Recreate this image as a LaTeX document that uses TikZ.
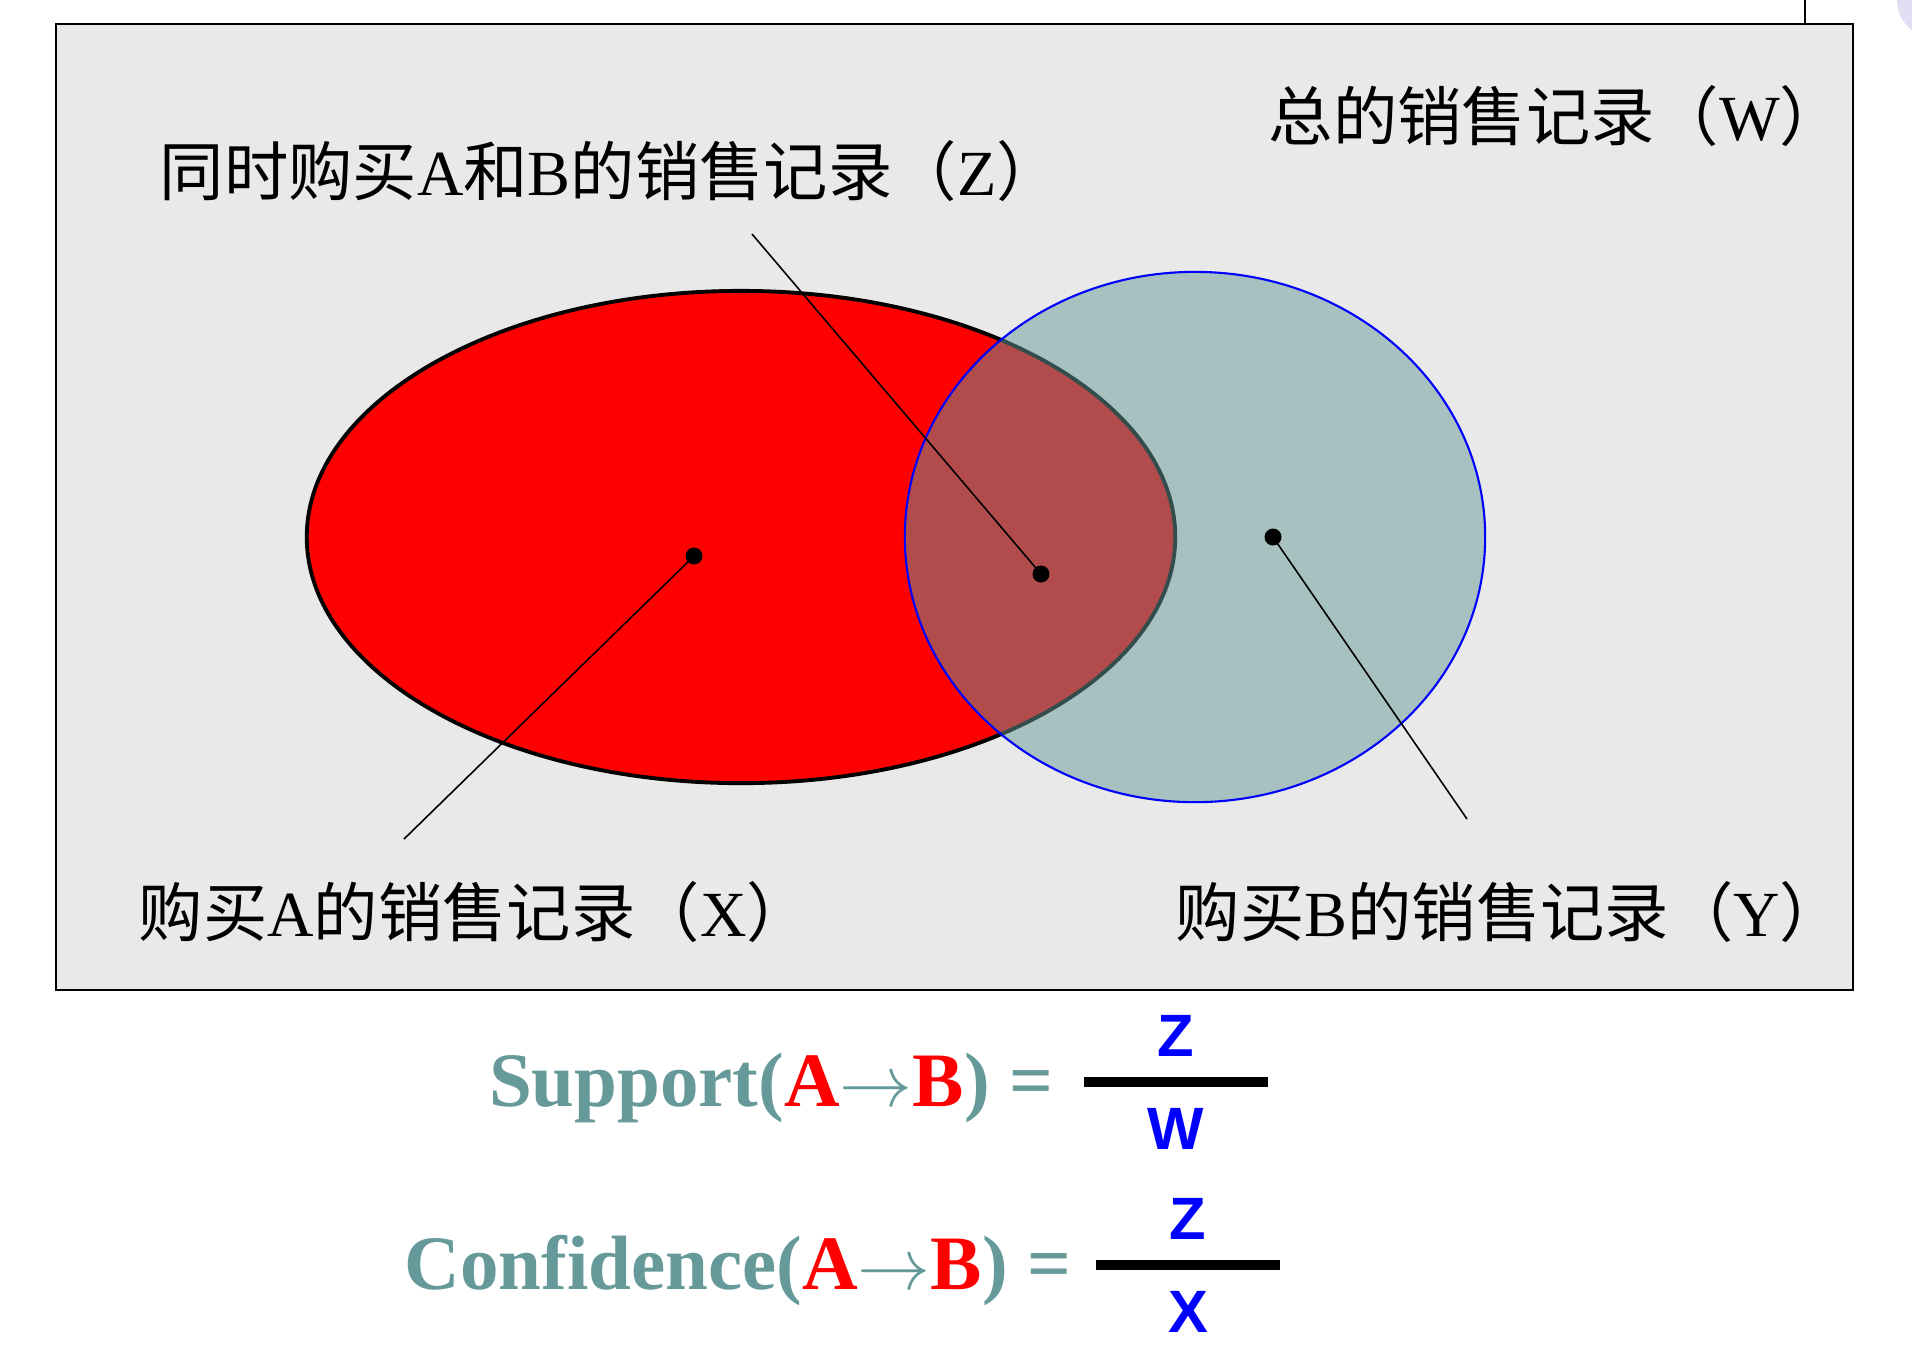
\documentclass[tikz,border=0pt]{standalone}
\usepackage{fontspec}
\setmainfont{Liberation Serif}
\newfontfamily\cjk{Noto Sans CJK SC}
\newfontfamily\arialfont{Liberation Sans}
\usetikzlibrary{shapes.geometric, positioning}
\definecolor{mybg}{RGB}{233,233,233}
\definecolor{myteal}{RGB}{102,153,153}
\definecolor{myred}{RGB}{255,0,0}
\definecolor{myblue}{RGB}{0,0,255}
\definecolor{mylav}{RGB}{226,223,245}
\newcommand{\zh}[1]{{\cjk #1}}
\newcommand{\implarrow}{\ensuremath{\rightarrow}}
\tikzset{
  setlabel/.style={font=\fontsize{18.3}{21}\selectfont, inner sep=0pt},
  setA/.style={ellipse, draw=black, fill=myred, line width=1.1pt,
    minimum width=8.68cm, minimum height=4.92cm, inner sep=0pt},
  setB/.style={ellipse, draw=myblue, fill=myteal, fill opacity=0.5,
    line width=0.6pt, minimum width=5.8cm, minimum height=5.3cm, inner sep=0pt},
  dot/.style={circle, fill=black, inner sep=0pt, minimum size=0.17cm},
  leader/.style={line width=0.45pt, color=black},
  fracbar/.style={rectangle, fill=black, inner sep=0pt,
    minimum width=1.83cm, minimum height=0.1cm},
  formula/.style={font=\fontsize{21.9}{24}\selectfont\bfseries, inner sep=0pt, color=myteal},
  letter/.style={font=\fontsize{17}{20}\selectfont\arialfont\bfseries, inner sep=0pt, color=myblue}
}

\begin{document}
\begin{tikzpicture}[x=0.01cm, y=-0.01cm]
  \useasboundingbox (0,0) rectangle (1912,1362);

  % Frame
  \fill[mylav] (1935,0) circle (38);
  \draw[line width=0.6pt] (1805,0) -- (1805,24);
  \draw[line width=0.6pt, fill=mybg] (56,24) rectangle (1853,990);

  % Sets
  \node[setA] (setA) at (741,537) {};
  \node[setB] (setB) at (1195,537) {};

  % Dots
  \node[dot] (dotX) at (694,556) {};
  \node[dot] (dotZ) at (1041,574) {};
  \node[dot] (dotY) at (1273,537) {};

  % Leader ends
  \coordinate (endX) at (404,839);
  \coordinate (endZ) at (752,234);
  \coordinate (endY) at (1467,819);

  \draw[leader] (dotX.center) -- (endX);
  \draw[leader] (dotZ.center) -- (endZ);
  \draw[leader] (dotY.center) -- (endY);

  % Labels
  \node[setlabel, anchor=east] (labW) at (1845,116) {\zh{总的销售记录（}W\zh{）}};
  \node[setlabel, anchor=west] (labZ) at (159,171) {\zh{同时购买}A\zh{和}B\zh{的销售记录（}Z\zh{）}};
  \node[setlabel, anchor=west] (labX) at (138,912) {\zh{购买}A\zh{的销售记录（}X\zh{）}};
  \node[setlabel, anchor=east] (labY) at (1845,912) {\zh{购买}B\zh{的销售记录（}Y\zh{）}};

  % Support
  \node[fracbar] (bar1) at (1176,1082) {};
  \node[letter, above=0.19cm of bar1] (num1) {Z};
  \node[letter, below=0.2cm of bar1] (den1) {W};
  \node[formula, left=0.3cm of bar1, yshift=-0.06cm] (supp)
    {Support(\textcolor{myred}{A}\implarrow\textcolor{myred}{B}) =};

  % Confidence
  \node[fracbar] (bar2) at (1188,1265) {};
  \node[letter, above=0.19cm of bar2] (num2) {Z};
  \node[letter, below=0.2cm of bar2] (den2) {X};
  \node[formula, left=0.24cm of bar2, yshift=-0.06cm] (conf)
    {Confidence(\textcolor{myred}{A}\implarrow\textcolor{myred}{B}) =};
\end{tikzpicture}
\end{document}
